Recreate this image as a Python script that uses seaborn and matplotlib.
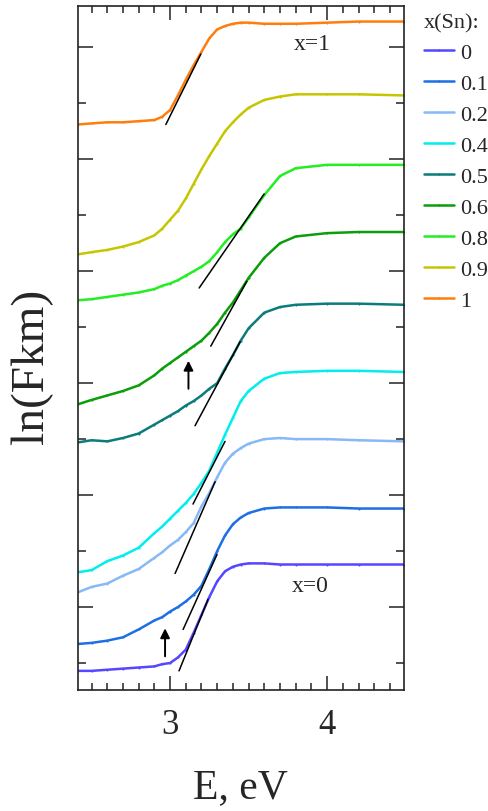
import numpy as np
import pandas as pd
import seaborn as sns
import matplotlib.pyplot as plt
from matplotlib.lines import Line2D
from matplotlib.ticker import MultipleLocator

# photon energy, eV (common grid for all samples)
energy = [2.41, 2.5, 2.6, 2.7, 2.8, 2.9, 2.95, 3.0, 3.05, 3.1, 3.15, 3.2,
          3.25, 3.3, 3.35, 3.4, 3.45, 3.5, 3.6, 3.7, 3.8, 4.0, 4.2, 4.49]

# ln(Fkm), curves shifted vertically
ln_x0 = [0.43, 0.43, 0.44, 0.45, 0.46, 0.47, 0.49, 0.50, 0.55, 0.62, 0.77, 0.93,
         1.09, 1.23, 1.32, 1.36, 1.38, 1.39, 1.39, 1.38, 1.38, 1.38, 1.38, 1.38]
ln_x01 = [0.67, 0.68, 0.70, 0.73, 0.80, 0.88, 0.91, 0.96, 1.00, 1.05, 1.11, 1.19,
          1.34, 1.50, 1.64, 1.74, 1.80, 1.84, 1.88, 1.89, 1.89, 1.89, 1.88, 1.88]
ln_x02 = [1.13, 1.18, 1.21, 1.28, 1.34, 1.44, 1.49, 1.55, 1.60, 1.67, 1.75, 1.90,
          2.02, 2.16, 2.29, 2.37, 2.42, 2.46, 2.50, 2.51, 2.50, 2.50, 2.49, 2.48]
ln_x04 = [1.31, 1.33, 1.41, 1.46, 1.53, 1.66, 1.72, 1.79, 1.86, 1.93, 2.01, 2.11,
          2.22, 2.38, 2.54, 2.69, 2.84, 2.93, 3.04, 3.09, 3.10, 3.11, 3.11, 3.10]
ln_x05 = [2.47, 2.49, 2.48, 2.51, 2.55, 2.63, 2.67, 2.71, 2.75, 2.80, 2.84, 2.89,
          2.95, 3.00, 3.13, 3.25, 3.38, 3.49, 3.63, 3.68, 3.70, 3.71, 3.71, 3.70]
ln_x06 = [2.81, 2.85, 2.89, 2.93, 2.98, 3.07, 3.13, 3.18, 3.23, 3.28, 3.33, 3.38,
          3.45, 3.53, 3.63, 3.72, 3.83, 3.94, 4.12, 4.25, 4.31, 4.34, 4.35, 4.35]
ln_x08 = [3.74, 3.75, 3.77, 3.79, 3.81, 3.84, 3.87, 3.89, 3.92, 3.96, 4.00, 4.04,
          4.09, 4.17, 4.26, 4.33, 4.38, 4.48, 4.68, 4.85, 4.92, 4.95, 4.95, 4.95]
ln_x09 = [4.15, 4.17, 4.19, 4.22, 4.26, 4.32, 4.38, 4.46, 4.54, 4.65, 4.78, 4.91,
          5.03, 5.14, 5.25, 5.33, 5.40, 5.46, 5.53, 5.56, 5.58, 5.58, 5.58, 5.57]
ln_x1 = [5.31, 5.32, 5.33, 5.33, 5.34, 5.35, 5.38, 5.44, 5.57, 5.71, 5.84, 5.96,
         6.08, 6.16, 6.19, 6.21, 6.22, 6.22, 6.21, 6.21, 6.21, 6.22, 6.23, 6.23]

sn_labels = ["0", "0.1", "0.2", "0.4", "0.5", "0.6", "0.8", "0.9", "1"]
sn_colors = ["#5546ff", "#1c6fe4", "#86b9f6", "#00eeee", "#0b7b7b",
             "#0a9e0a", "#22ee22", "#c6c600", "#ff7d0d"]

# tangent lines (E1, ln1, E2, ln2)
tangents = [
    (3.057, 0.43, 3.242, 1.07),
    (3.083, 0.80, 3.299, 1.47),
    (3.032, 1.30, 3.287, 2.12),
    (3.146, 1.92, 3.350, 2.48),
    (3.159, 2.62, 3.446, 3.37),
    (3.259, 3.33, 3.489, 3.91),
    (3.185, 3.85, 3.599, 4.69),
    (2.973, 5.31, 3.196, 5.94),
]
# arrows (E, ln_start, ln_end)
arrows = [(2.968, 0.56, 0.81), (3.117, 2.95, 3.20)]

curves = [ln_x0, ln_x01, ln_x02, ln_x04, ln_x05, ln_x06, ln_x08, ln_x09, ln_x1]
df = pd.concat([pd.DataFrame({"E": energy, "lnF": c, "x": lab})
                for c, lab in zip(curves, sn_labels)], ignore_index=True)

sns.set_style("ticks")
plt.rcParams["font.family"] = ["Liberation Serif", "DejaVu Serif"]

fig = plt.figure(figsize=(4.88, 8.12), dpi=100)
ax = fig.add_axes([0.159, 0.149, 0.669, 0.842])

sns.lineplot(data=df, x="E", y="lnF", hue="x", hue_order=sn_labels,
             palette=dict(zip(sn_labels, sn_colors)), sort=False,
             marker=".", markersize=3, markeredgewidth=0, linewidth=1.8,
             legend=False, ax=ax)

for e1, y1, e2, y2 in tangents:
    ax.plot([e1, e2], [y1, y2], color="black", lw=1.1)
for e, y1, y2 in arrows:
    ax.annotate("", xy=(e, y2), xytext=(e, y1),
                arrowprops=dict(arrowstyle="-|>", color="black", lw=1.4,
                                mutation_scale=14, shrinkA=0, shrinkB=0))

ax.text(3.904, 6.036, "x=1", fontsize=17, ha="center", va="center")
ax.text(3.892, 1.19, "x=0", fontsize=17, ha="center", va="center")

ax.set_xlim(2.411, 4.49)
ax.set_ylim(0.259, 6.366)
ax.xaxis.set_major_locator(MultipleLocator(1))
ax.xaxis.set_minor_locator(MultipleLocator(0.1))
ax.yaxis.set_major_locator(MultipleLocator(1))
ax.yaxis.set_minor_locator(MultipleLocator(0.5))
ax.tick_params(which="both", direction="in", top=True, right=True,
               labelleft=False, width=1.1, color="#222222")
ax.tick_params(axis="x", which="major", length=10, labelsize=25, pad=13)
ax.tick_params(axis="x", which="minor", length=5)
ax.tick_params(axis="y", which="major", length=11)
ax.tick_params(axis="y", which="minor", length=6)
for s in ax.spines.values():
    s.set_linewidth(1.2)
    s.set_color("#222222")

ax.set_xlabel("E, eV", fontsize=30, labelpad=19)
ax.set_ylabel("")
fig.text(32 / 488, 1 - 366 / 812, "ln(Fkm)", fontsize=34, rotation=90,
         ha="center", va="center")

handles = [Line2D([], [], color=c, lw=1.8, marker=".", markersize=3,
                  markeredgewidth=0) for c in sn_colors]
leg = ax.legend(handles, sn_labels, title="x(Sn):", loc="upper left",
                bbox_to_anchor=(0.869, 0.983), bbox_transform=fig.transFigure,
                frameon=False, fontsize=16, title_fontsize=16,
                handlelength=1.35, handletextpad=0.25, labelspacing=0.47,
                borderaxespad=0, borderpad=0, alignment="left")

fig.savefig("out.png", dpi=100)
